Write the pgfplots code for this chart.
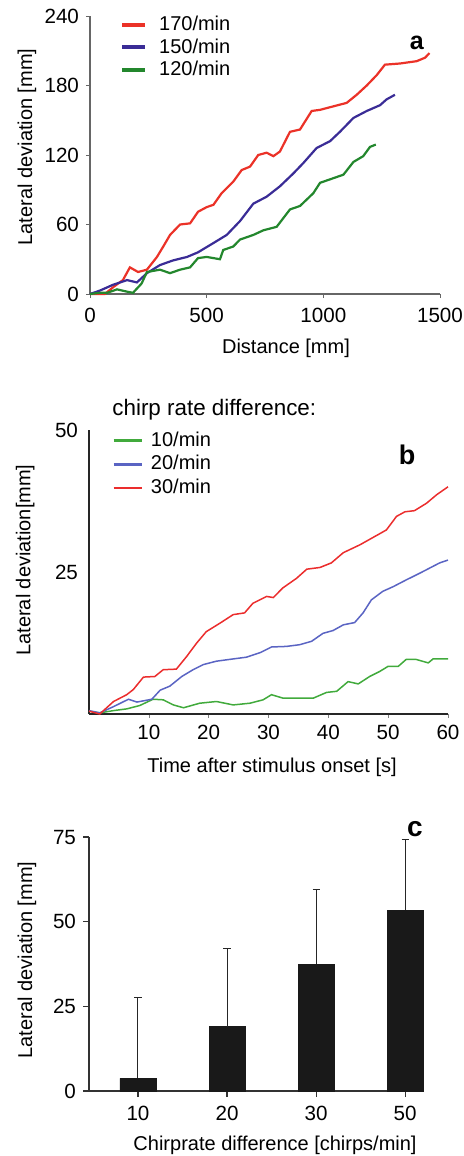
\documentclass[border=0pt]{standalone}
\usepackage{fontspec}
\setmainfont{Liberation Sans}
\usepackage{pgfplots}
\pgfplotsset{compat=1.18}

\definecolor{ared}{RGB}{235,50,40}
\definecolor{ablue}{RGB}{58,44,150}
\definecolor{agreen}{RGB}{35,135,45}
\definecolor{bred}{RGB}{235,45,45}
\definecolor{bblue}{RGB}{90,100,195}
\definecolor{bgreen}{RGB}{65,170,60}

\newcommand\tickfont{\fontsize{10.3pt}{11pt}\selectfont}
\newcommand\labfont{\fontsize{11.2pt}{12pt}\selectfont}
\newcommand\legfont{\fontsize{10pt}{10.5pt}\selectfont}

\pgfplotsset{
  panel/.style={
    scale only axis,
    axis lines*=left,
    axis line style={-},
    tick align=outside,
    tick label style={font=\tickfont},
    label style={font=\labfont},
    /pgf/number format/assume math mode=true,
    /pgf/number format/1000 sep={},
    clip=false,
  },
}

\begin{document}
\begin{tikzpicture}
\useasboundingbox (0,0) rectangle (231.5pt,-578pt);

% ---- panel a
\begin{axis}[panel,
  at={(45pt,-147pt)}, anchor=south west,
  width=175pt, height=139pt,
  xmin=0, xmax=1500, ymin=0, ymax=240,
  xtick={0,500,1000,1500}, ytick={0,60,120,180,240},
  axis line style={draw=black!60, line width=0.6pt},
  major tick length=2pt,
  tick style={black!60},
  xticklabel style={yshift=-1.5pt},
  xlabel={Distance [mm]}, ylabel={Lateral deviation [mm]},
  every axis x label/.style={at={(axis description cs:0.56,-0.194)},anchor=center},
  every axis y label/.style={at={(axis description cs:-0.18,0.529)},rotate=90,anchor=center},
  legend style={draw=none, fill=none, font=\legfont,
    at={(axis description cs:0.085,1.015)}, anchor=north west,
    row sep=-1.6pt, inner sep=0pt},
  legend cell align=left,
  legend image code/.code={\draw[#1, line width=2pt] (0pt,0pt) -- (11.5pt,0pt);},
]
\addplot[ared, line width=1.1pt] coordinates {
(0,0) (64,0) (100,6) (141,12) (171,23) (206,19) (244,21) (287,32) (314,41)
(343,51) (386,60) (429,61) (463,71) (500,75) (529,77) (564,87) (614,97)
(650,107) (686,110) (721,120) (757,122) (786,119) (814,123) (857,140)
(900,142) (950,158) (986,159) (1043,162) (1100,165) (1143,172) (1186,180)
(1229,189) (1264,198) (1329,199) (1400,201) (1436,204) (1455,208)};
\addplot[ablue, line width=1.1pt] coordinates {
(0,0) (43,3) (99,8) (159,12) (201,10) (244,18) (300,25) (356,29) (416,32)
(463,36) (529,44) (586,51) (643,63) (700,78) (757,84) (814,93) (871,104)
(914,113) (971,126) (1029,132) (1071,140) (1129,152) (1186,158) (1243,163)
(1271,168) (1307,172)};
\addplot[agreen, line width=1.1pt] coordinates {
(0,0) (40,1) (73,1) (116,4) (159,2) (184,1) (221,9) (244,19) (300,21)
(343,18) (386,21) (429,23) (463,31) (500,32) (529,31) (557,30) (571,38)
(614,41) (643,47) (700,51) (743,55) (800,58) (857,73) (900,76) (957,87)
(986,96) (1029,99) (1086,103) (1129,114) (1171,119) (1200,127) (1225,129)};
\legend{\hspace{4pt}170/min, \hspace{4pt}150/min, \hspace{4pt}120/min}
\node[font=\fontsize{12.5pt}{12.5pt}\selectfont\bfseries] at (axis description cs:0.934,0.903) {a};
\end{axis}

% ---- panel b
\begin{axis}[panel,
  at={(44.5pt,-357pt)}, anchor=south west,
  width=179.5pt, height=142pt,
  xmin=0, xmax=60, ymin=0, ymax=50,
  xtick={10,20,30,40,50,60}, ytick={25,50},
  axis line style={draw=black!85, line width=1pt},
  major tick length=2pt,
  ytick style={draw=none},
  xlabel={Time after stimulus onset [s]}, ylabel={Lateral deviation[mm]},
  every axis x label/.style={at={(axis description cs:0.51,-0.187)},anchor=center},
  every axis y label/.style={at={(axis description cs:-0.178,0.542)},rotate=90,anchor=center},
  legend style={draw=none, fill=none, font=\legfont,
    at={(axis description cs:0.064,1.01)}, anchor=north west,
    row sep=-0.8pt, inner sep=0pt},
  legend cell align=left,
  legend image code/.code={\draw[#1, line width=1.3pt] (0pt,0pt) -- (14pt,0pt);},
]
\addplot[bgreen, line width=0.75pt] coordinates {
(0,0.5) (1.8,0.2) (4.1,0.6) (6.3,0.9) (8.5,1.5) (10.7,2.6) (12.4,2.5)
(14.1,1.6) (15.8,1.1) (18.5,1.9) (21.3,2.2) (24.1,1.6) (26.9,1.9) (29.1,2.5)
(30.5,3.4) (32.4,2.8) (35.2,2.8) (37.5,2.8) (39.7,3.8) (41.4,4.0) (43.3,5.7)
(45,5.3) (46.9,6.6) (48.6,7.5) (50,8.4) (51.7,8.4) (53,9.6) (54.7,9.6)
(56.7,9.0) (57.5,9.7) (60,9.7)};
\addplot[bblue, line width=0.75pt] coordinates {
(0,0.6) (1.8,0.2) (4.1,1.3) (6.6,2.6) (8,2.1) (10.5,2.6) (11.9,4.2)
(13.5,4.9) (15.5,6.6) (17.4,7.8) (19.1,8.7) (21.3,9.3) (24.1,9.7) (26.3,10.0)
(28.6,10.8) (30.5,11.8) (33,11.9) (35.2,12.2) (37.2,12.8) (39.1,14.2)
(40.8,14.7) (42.5,15.7) (44.4,16.1) (45.8,17.8) (47.2,20.1) (49.1,21.6)
(50.8,22.4) (53,23.6) (55.3,24.8) (57.5,26.0) (58.6,26.6) (60,27.1)};
\addplot[bred, line width=0.75pt] coordinates {
(0,0.5) (1.8,0) (4.1,2.2) (6.3,3.4) (7.4,4.3) (9.1,6.5) (11,6.6) (12.4,7.8)
(14.6,7.9) (16.3,10.1) (18,12.5) (19.6,14.5) (21.9,16.0) (24.1,17.5)
(26,17.8) (27.4,19.5) (29.7,20.7) (30.8,20.5) (32.4,22.2) (34.7,23.9)
(36.4,25.5) (38.6,25.8) (40.5,26.6) (42.5,28.4) (45.3,29.8) (47.5,31.1)
(49.7,32.4) (51.4,34.8) (52.8,35.6) (54.4,35.8) (56.4,37.1) (58.1,38.6)
(60,40.0)};
\legend{\hspace{2pt}10/min, \hspace{2pt}20/min, \hspace{2pt}30/min}
\node[anchor=west, inner sep=0pt, font=\labfont] at (axis description cs:0.064,1.07) {chirp rate difference:};
\node[font=\fontsize{13.5pt}{13.5pt}\selectfont\bfseries] at (axis description cs:0.886,0.912) {b};
\end{axis}

% ---- panel c
\begin{axis}[panel,
  at={(44.5pt,-545.5pt)}, anchor=south west,
  width=167pt, height=127pt,
  xmin=-0.55, xmax=3.2, ymin=0, ymax=75,
  xtick={0,1,2,3}, xticklabels={10,20,30,50},
  ytick={0,25,50,75},
  axis line style={draw=black!80, line width=0.6pt},
  tick style={black!80, line width=0.6pt},
  major tick length=3pt,
  xticklabel style={yshift=-1pt},
  xlabel={Chirprate difference [chirps/min]}, ylabel={Lateral deviation [mm]},
  every axis x label/.style={at={(axis description cs:0.557,-0.213)},anchor=center},
  every axis y label/.style={at={(axis description cs:-0.186,0.516)},rotate=90,anchor=center},
]
\addplot[ybar, bar width=18pt, fill=black!90, draw=black!90,
  error bars/.cd, y dir=plus, y explicit,
  error bar style={black!85, line width=0.5pt},
  error mark options={rotate=90, mark size=1.8pt, black!85, line width=0.5pt}]
  coordinates {
  (0,3.7) +- (0,23.9)
  (1,19.0) +- (0,23.1)
  (2,37.5) +- (0,22.0)
  (3,53.4) +- (0,20.8)};
\node[font=\fontsize{14pt}{14pt}\selectfont\bfseries] at (axis description cs:0.976,1.031) {c};
\end{axis}
\end{tikzpicture}
\end{document}
